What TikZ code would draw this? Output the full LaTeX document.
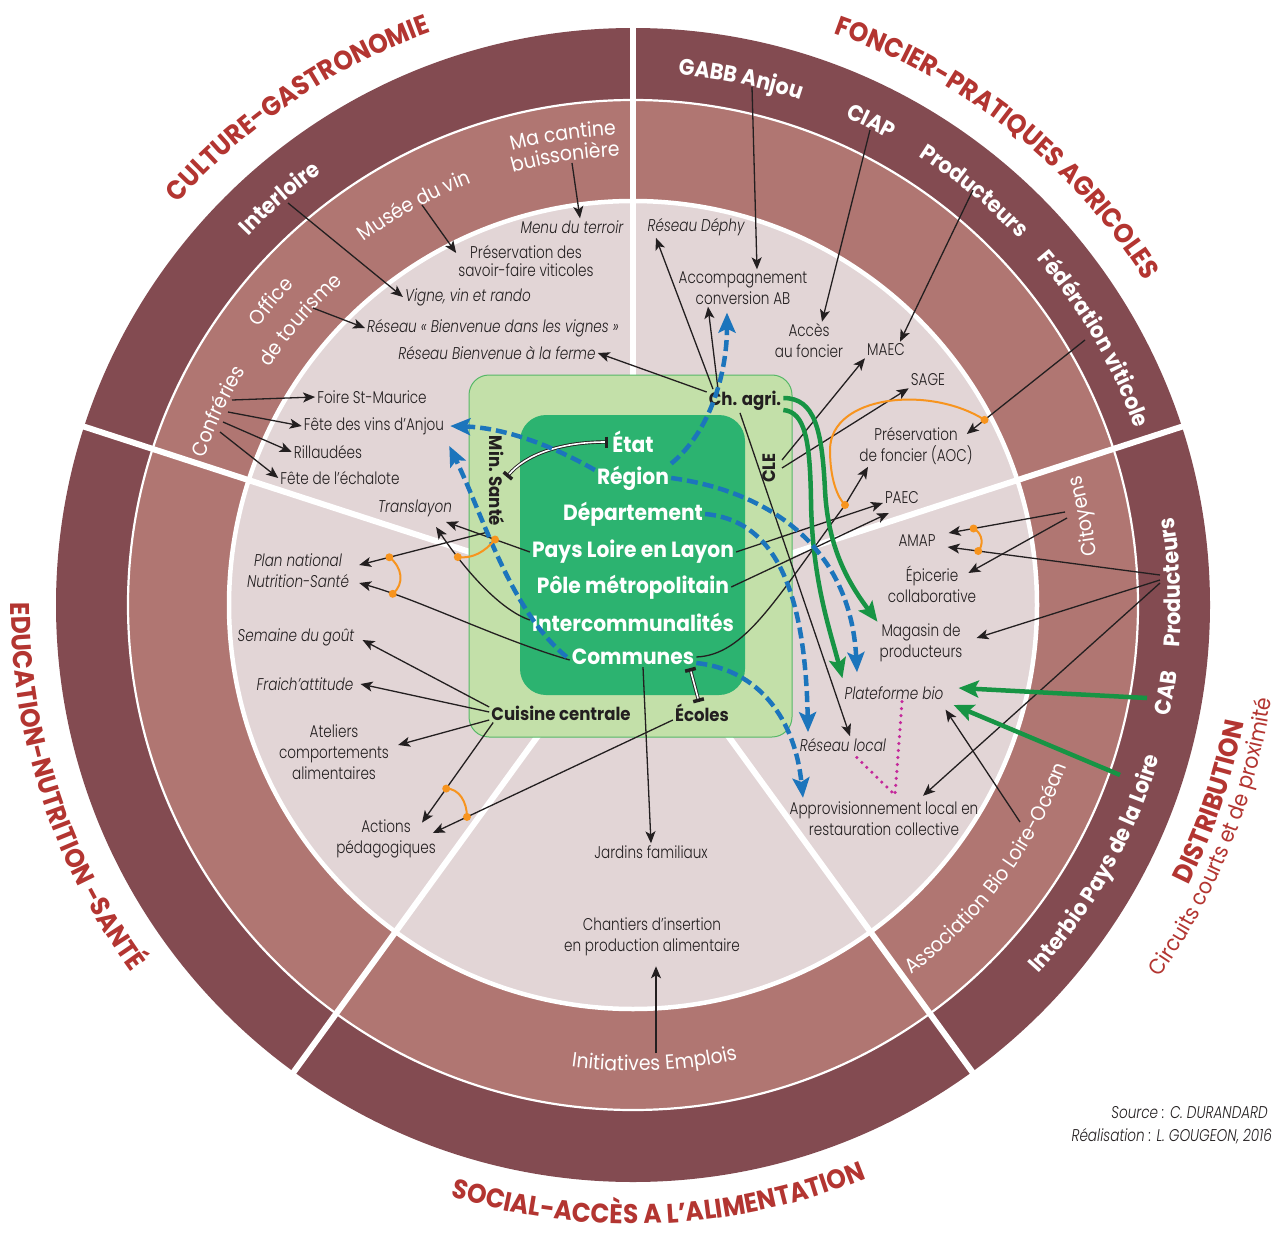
\documentclass[tikz,border=0pt]{standalone}
\usepackage{fontspec}
\setmainfont{Poppins}
\newfontfamily\labfont[FakeStretch=0.8]{Poppins Light}
\newfontfamily\govfont[FakeStretch=0.92]{Poppins}
\newfontfamily\ringfont[FakeStretch=0.92]{Poppins}
\usetikzlibrary{arrows.meta,decorations.text}

\definecolor{ringdark}{RGB}{131,75,81}
\definecolor{ringmid}{RGB}{176,118,114}
\definecolor{ringlight}{RGB}{226,213,214}
\definecolor{titlered}{RGB}{179,53,49}
\definecolor{boxlight}{RGB}{195,224,169}
\definecolor{boxline}{RGB}{86,184,103}
\definecolor{boxdark}{RGB}{44,179,112}
\definecolor{flowblue}{RGB}{28,117,188}
\definecolor{flowgreen}{RGB}{23,148,68}
\definecolor{linkorange}{RGB}{247,148,30}
\definecolor{linkmagenta}{RGB}{196,40,155}
\definecolor{ink}{RGB}{35,31,32}

\newcommand{\fmtbold}{\ringfont\bfseries\fontsize{22.5}{22}\selectfont}
\newcommand{\fmtreg}{\ringfont\fontsize{20.5}{20}\selectfont}
\newcommand{\fmttitle}{\govfont\bfseries\fontsize{27}{27}\selectfont}
\newcommand{\fmtsub}{\ringfont\fontsize{22}{22}\selectfont}

% text along a clockwise arc: radius, centre angle, half span, format, colour, text
\newcommand{\cwtext}[6]{%
  \path[decorate, decoration={text along path, text align=center, text color=#5,
    text={|#4|#6}}] ({#2+#3}:#1) arc[start angle={#2+#3}, end angle={#2-#3}, radius=#1];}
% text along a counter-clockwise arc
\newcommand{\ccwtext}[6]{%
  \path[decorate, decoration={text along path, text align=center, text color=#5,
    text={|#4|#6}}] ({#2-#3}:#1) arc[start angle={#2-#3}, end angle={#2+#3}, radius=#1];}

\tikzset{
  lbl/.style={font=\labfont\fontsize{17}{21}\selectfont, text=ink, align=center, inner sep=2pt},
  lbli/.style={lbl, font=\labfont\itshape\fontsize{17}{21}\selectfont},
  gov/.style={font=\govfont\bfseries\fontsize{22}{22}\selectfont, text=white, inner sep=2pt},
  actor/.style={font=\govfont\bfseries\fontsize{18}{20}\selectfont, text=ink, inner sep=2pt},
  arr/.style={draw=ink, line width=1.3pt, -{Stealth[length=12pt,width=10pt,inset=3pt]}},
  bluearr/.style={draw=flowblue, line width=4.5pt, dash pattern=on 11pt off 5pt,
    -{Stealth[length=20pt,width=17pt,inset=4pt]}},
  greenarr/.style={draw=flowgreen, line width=4.5pt, -{Stealth[length=20pt,width=17pt,inset=4pt]}},
  olink/.style={draw=linkorange, line width=2pt},
  odot/.style={circle, fill=linkorange, inner sep=0pt, minimum size=8pt},
  dbl/.style={draw=ink, line width=0.9pt, double=white, double distance=1.6pt,
    {Bar[width=11pt,line width=3.5pt]}-{Bar[width=11pt,line width=3.5pt]}},
  magline/.style={draw=linkmagenta, line width=3.5pt, line cap=round, dash pattern=on 0pt off 7pt},
  src/.style={font=\labfont\itshape\fontsize{17}{19}\selectfont, text=ink, anchor=east, inner sep=0pt}
}

\begin{document}
\begin{tikzpicture}[x=1pt, y=-1pt]
\useasboundingbox (0,0) rectangle (1277,1233);
\fill[white] (0,0) rectangle (1277,1233);

% ---------- the five-sector wheel ----------
\begin{scope}[shift={(633,605)}, y=1pt]
  \fill[ringdark] (0,0) circle[radius=577];
  \fill[ringmid] (0,0) circle[radius=505];
  \fill[ringlight] (0,0) circle[radius=404];
  \draw[white, line width=2.2pt] (0,0) circle[radius=505];
  \draw[white, line width=4.5pt] (0,0) circle[radius=404];
  \foreach \a in {90,162,234,306,18}
    \draw[white, line width=6pt] (0,0) -- (\a:582);

  % culture - gastronomie
  \cwtext{533}{131}{20}{\fmtbold}{white}{Interloire}
  \cwtext{452}{118.7}{20}{\fmtreg}{white}{Musée du vin}
  \cwtext{470}{98.5}{15}{\fmtreg}{white}{Ma cantine}
  \cwtext{449}{98.6}{15}{\fmtreg}{white}{buissonière}
  \cwtext{466}{140}{15}{\fmtreg}{white}{Office}
  \cwtext{434}{139.4}{20}{\fmtreg}{white}{de tourisme}
  \cwtext{453}{155}{15}{\fmtreg}{white}{Confréries}
  % foncier - pratiques agricoles
  \cwtext{532}{78.4}{15}{\fmtbold}{white}{GABB Anjou}
  \cwtext{532}{63.8}{10}{\fmtbold}{white}{CIAP}
  \cwtext{532}{50.5}{15}{\fmtbold}{white}{Producteurs}
  \cwtext{532}{30}{22}{\fmtbold}{white}{Fédération viticole}
  % distribution
  \ccwtext{466}{11.1}{12}{\fmtreg}{white}{Citoyens}
  \ccwtext{548}{2.4}{15}{\fmtbold}{white}{Producteurs}
  \ccwtext{548}{-9.4}{8}{\fmtbold}{white}{CAB}
  \ccwtext{548}{-29.2}{24}{\fmtbold}{white}{Interbio Pays de la Loire}
  \ccwtext{463}{-36.7}{24}{\fmtreg}{white}{Association Bio Loire-Océan}
  % social
  \ccwtext{466}{-87.3}{20}{\fmtreg}{white}{Initiatives Emplois}

  % sector titles
  \cwtext{607}{124}{28}{\fmttitle}{titlered}{CULTURE-GASTRONOMIE}
  \cwtext{606}{51.5}{30}{\fmttitle}{titlered}{FONCIER-PRATIQUES AGRICOLES}
  \ccwtext{622}{-18.8}{18}{\fmttitle}{titlered}{DISTRIBUTION}
  \ccwtext{645}{-21.8}{28}{\fmtsub}{titlered}{Circuits courts et de proximité}
  \ccwtext{619}{-87.5}{30}{\fmttitle}{titlered}{SOCIAL-ACCÈS A L’ALIMENTATION}
  \ccwtext{622}{198}{30}{\fmttitle}{titlered}{EDUCATION-NUTRITION -SANTÉ}
\end{scope}

% ---------- public actors box ----------
\draw[boxline, fill=boxlight, line width=1pt, rounded corners=20pt] (469,375) rectangle (792,737);
\fill[boxdark, rounded corners=26pt] (520,415) rectangle (745,695);

\node[gov] (etat) at (633,442) {État};
\node[gov] (region) at (633,478) {Région};
\node[gov] (dept) at (633,514) {Département};
\node[gov] (pays) at (633,552) {Pays Loire en Layon};
\node[gov] (pole) at (633,587) {Pôle métropolitain};
\node[gov] (interco) at (633,622) {Intercommunalités};
\node[gov] (communes) at (633,657) {Communes};

\node[actor] (chagri) at (745,401) {Ch. agri.};
\node[actor, rotate=90] (cle) at (769,468) {CLE};
\node[actor, rotate=-90] (minsante) at (497,481) {Min. Santé};
\node[actor] (cuisine) at (561,713) {Cuisine centrale};
\node[actor] (ecoles) at (702,713) {Écoles};

% ---------- actions and projects ----------
\node[lbli] (menu) at (572,227) {Menu du terroir};
\node[lbl, font=\labfont\fontsize{17}{18.5}\selectfont] (savoir) at (526,261) {Préservation des\\savoir-faire viticoles};
\node[lbli] (vigne) at (468,297) {Vigne, vin et rando};
\node[lbli] (vignes) at (493,328) {Réseau « Bienvenue dans les vignes »};
\node[lbli] (ferme) at (497,353) {Réseau Bienvenue à la ferme};
\node[lbl] (foire) at (372,397) {Foire St-Maurice};
\node[lbl] (fete) at (374,426) {Fête des vins d’Anjou};
\node[lbl] (rillau) at (328,452) {Rillaudées};
\node[lbl] (echalote) at (340,478) {Fête de l’échalote};
\node[lbli] (translayon) at (415,508) {Translayon};
\node[lbli] (pnns) at (298,571) {Plan national\\Nutrition-Santé};
\node[lbli] (semaine) at (296,637) {Semaine du goût};
\node[lbli] (fraich) at (305,684) {Fraich’attitude};
\node[lbl] (ateliers) at (334,752) {Ateliers\\comportements\\alimentaires};
\node[lbl] (actions) at (386,839) {Actions\\pédagogiques};
\node[lbl] (jardins) at (651,852) {Jardins familiaux};
\node[lbl] (chantiers) at (652,937) {Chantiers d’insertion\\en production alimentaire};
\node[lbli] (dephy) at (696,227) {Réseau Déphy};
\node[lbl] (accomp) at (743,288) {Accompagnement\\conversion AB};
\node[lbl] (acces) at (809,341) {Accès\\au foncier};
\node[lbl] (maec) at (886,350) {MAEC};
\node[lbl] (sage) at (928,380) {SAGE};
\node[lbl] (aoc) at (916,446) {Préservation\\de foncier (AOC)};
\node[lbl] (paec) at (902,498) {PAEC};
\node[lbl] (amap) at (917,541) {AMAP};
\node[lbl] (epicerie) at (932,584) {Épicerie\\collaborative};
\node[lbl] (magasin) at (921,643) {Magasin de\\producteurs};
\node[lbli] (plateforme) at (894,693) {Plateforme bio};
\node[lbli] (reseaulocal) at (843,745) {Réseau local};
\node[lbl] (appro) at (884,819) {Approvisionnement local en\\restauration collective};

\node[src] (source) at (1268,1113) {Source : C. DURANDARD};
\node[src] (credit) at (1272,1136) {Réalisation : L. GOUGEON, 2016};

% ---------- anchor points on the ring labels ----------
\coordinate (cantine) at (572,163);
\coordinate (musee) at (422,205);
\coordinate (interloire) at (288,203);
\coordinate (office) at (313,308);
\coordinate (conf1) at (232,400);
\coordinate (conf2) at (228,412);
\coordinate (conf3) at (223,422);
\coordinate (conf4) at (220,432);
\coordinate (gabb) at (752,87);
\coordinate (ciap) at (870,130);
\coordinate (prodf) at (973,190);
\coordinate (federation) at (1085,340);
\coordinate (cit1) at (1065,512);
\coordinate (cit2) at (1067,518);
\coordinate (prodd1) at (1160,575);
\coordinate (prodd2) at (1160,580);
\coordinate (prodd3) at (1160,583);
\coordinate (cab) at (1147,698);
\coordinate (interbio) at (1120,775);
\coordinate (abio) at (1020,822);
\coordinate (initiatives) at (656,1053);
\coordinate (o1b) at (845,505);
\coordinate (magbend) at (895,795);

% ---------- black links ----------
\draw[arr] (cantine) -- ([xshift=8pt]menu.north);
\draw[arr] (musee) -- ([yshift=8pt]savoir.west);
\draw[arr] (interloire) -- (vigne.west);
\draw[arr] (office) -- (vignes.west);
\draw[arr] ([yshift=9pt]chagri.west) -- (ferme.east);
\draw[arr] (conf1) -- (foire.west);
\draw[arr] (conf2) -- (fete.west);
\draw[arr] (conf3) -- (rillau.west);
\draw[arr] (conf4) -- (echalote.west);

\draw[arr] (gabb) -- ([xshift=14pt]accomp.north);
\draw[arr] (ciap) -- ([xshift=13pt]acces.north);
\draw[arr] (prodf) -- ([xshift=14pt]maec.north);
\draw[arr] (federation) -- ([xshift=-8pt,yshift=12pt]aoc.east) coordinate[pos=0.85] (o1a);
\draw[arr] ([xshift=-32pt]chagri.north) -- ([xshift=-40pt]dephy.south);
\draw[arr] ([xshift=-27pt]chagri.north) -- ([xshift=-35pt]accomp.south);
\draw[arr] ([xshift=13pt,yshift=8pt]cle.center) -- (maec.south west);
\draw[arr] ([xshift=13pt]cle.center) -- (sage.south west);
\draw[arr] (communes.east) .. controls (745,655) and (775,600) .. (o1b) -- ([xshift=-48pt]aoc.south);
\draw[arr] (pays.east) -- ([yshift=-5pt]paec.west);
\draw[arr] (pole.east) -- ([xshift=6pt,yshift=-15pt]paec.west);
\draw[arr] ([xshift=-5pt]chagri.south) -- ([xshift=7pt]reseaulocal.north);

\draw[arr] (cit1) -- ([xshift=11pt,yshift=8pt]amap.east) coordinate[pos=0.786] (o2a);
\draw[arr] (cit2) -- ([xshift=-10pt,yshift=11pt]epicerie.east);
\draw[arr] (prodd1) -- ([xshift=10pt,yshift=-6pt]amap.east) coordinate[pos=0.856] (o2b);
\draw[arr] (prodd2) -- ([xshift=12pt,yshift=5pt]magasin.east);
\draw[arr] (prodd3) -- ([xshift=39pt,yshift=4pt]appro.north);
\draw[arr] (abio) -- ([yshift=-8pt]plateforme.south east);

\draw[arr] ([xshift=-10pt,yshift=-4pt]minsante.east) -- ([xshift=8pt,yshift=6pt]pnns.east) coordinate[pos=0.764] (o4a);
\draw[arr] ([yshift=-3pt]communes.west) .. controls (500,640) and (420,600) .. ([xshift=8pt,yshift=-12pt]pnns.east) coordinate[pos=0.825] (o4b);
\draw[arr] ([yshift=6pt]cuisine.west) -- ([xshift=6pt,yshift=-3pt]semaine.east);
\draw[arr] ([yshift=1pt]cuisine.west) -- ([xshift=5pt]fraich.east);
\draw[arr] ([yshift=-7pt]cuisine.west) -- ([xshift=7pt,yshift=7pt]ateliers.east);
\draw[arr] ([xshift=4pt]cuisine.south west) -- ([xshift=36pt,yshift=-5pt]actions.north) coordinate[pos=0.66] (o5a);
\draw[arr] ([yshift=-7pt]ecoles.west) -- ([xshift=-5pt,yshift=6pt]actions.east) coordinate[pos=0.858] (o5b);
\draw[arr] (pays.west) -- ([xshift=-8pt,yshift=-14pt]translayon.east) coordinate[pos=0.416] (o3a);
\draw[arr] ([yshift=2pt]interco.west) .. controls (500,610) and (465,570) .. ([xshift=-18pt,yshift=-19pt]translayon.east) coordinate[pos=0.76] (o3b);

\draw[arr] (initiatives) -- ([xshift=4pt,yshift=-8pt]chantiers.south);
\draw[arr] ([xshift=10pt]communes.south) -- (jardins.north);

% ---------- institutional ties ----------
\draw[dbl] ([xshift=-2pt]etat.west) .. controls (560,442) and (525,455) .. ([yshift=4pt]minsante.north);
\draw[dbl] ([xshift=57pt,yshift=-1pt]communes.south) -- ([xshift=-3pt]ecoles.north);

% ---------- green flows ----------
\draw[greenarr] (cab) -- ([xshift=13pt,yshift=5pt]plateforme.east);
\draw[greenarr] (interbio) -- ([xshift=8pt,yshift=-12pt]plateforme.east);
\draw[greenarr] ([yshift=3pt]chagri.east) .. controls (815,398) and (822,430) .. (825,490)
  .. controls (828,550) and (850,585) .. (magasin.north west);
\draw[greenarr] ([yshift=-9pt]chagri.east) .. controls (805,412) and (810,440) .. (811,500)
  .. controls (812,580) and (830,630) .. ([yshift=6pt]plateforme.north west);

% ---------- blue flows ----------
\draw[bluearr] (region.north east) .. controls (712,430) and (727,370) .. ([xshift=-16pt,yshift=-6pt]accomp.south);
\draw[bluearr] ([yshift=8pt]region.west) .. controls (560,450) and (510,428) .. ([xshift=4pt]fete.east);
\draw[bluearr] ([xshift=-3pt]communes.west) .. controls (510,610) and (485,520) .. ([xshift=3pt,yshift=-20pt]fete.east);
\draw[bluearr] (region.east) .. controls (760,490) and (850,540) .. ([xshift=-37pt,yshift=12pt]plateforme.north);
\draw[bluearr] (dept.east) .. controls (770,520) and (805,580) .. ([xshift=-35pt,yshift=4pt]reseaulocal.north);
\draw[bluearr] ([yshift=-6pt]communes.east) .. controls (760,670) and (795,720) .. ([xshift=-81pt,yshift=2pt]appro.north);

% ---------- orange pairings ----------
\draw[olink] (o1a) .. controls (930,385) and (830,395) .. (830,450) .. controls (830,480) and (838,498) .. (o1b);
\draw[olink] (o2a) .. controls +(10,5) and +(5,-5) .. (o2b);
\draw[olink] (o3a) .. controls +(-10,12) and +(15,2) .. (o3b);
\draw[olink] (o4a) .. controls +(13,10) and +(12,-10) .. (o4b);
\draw[olink] (o5a) .. controls +(13,0) and +(0,-15) .. (o5b);
\foreach \d in {o1a,o1b,o2a,o2b,o3a,o3b,o4a,o4b,o5a,o5b}
  \node[odot] (dot-\d) at (\d) {};

% ---------- magenta tie ----------
\draw[magline] ([xshift=8pt]plateforme.south) -- (magbend) -- ([xshift=10pt]reseaulocal.south);

\end{tikzpicture}
\end{document}
